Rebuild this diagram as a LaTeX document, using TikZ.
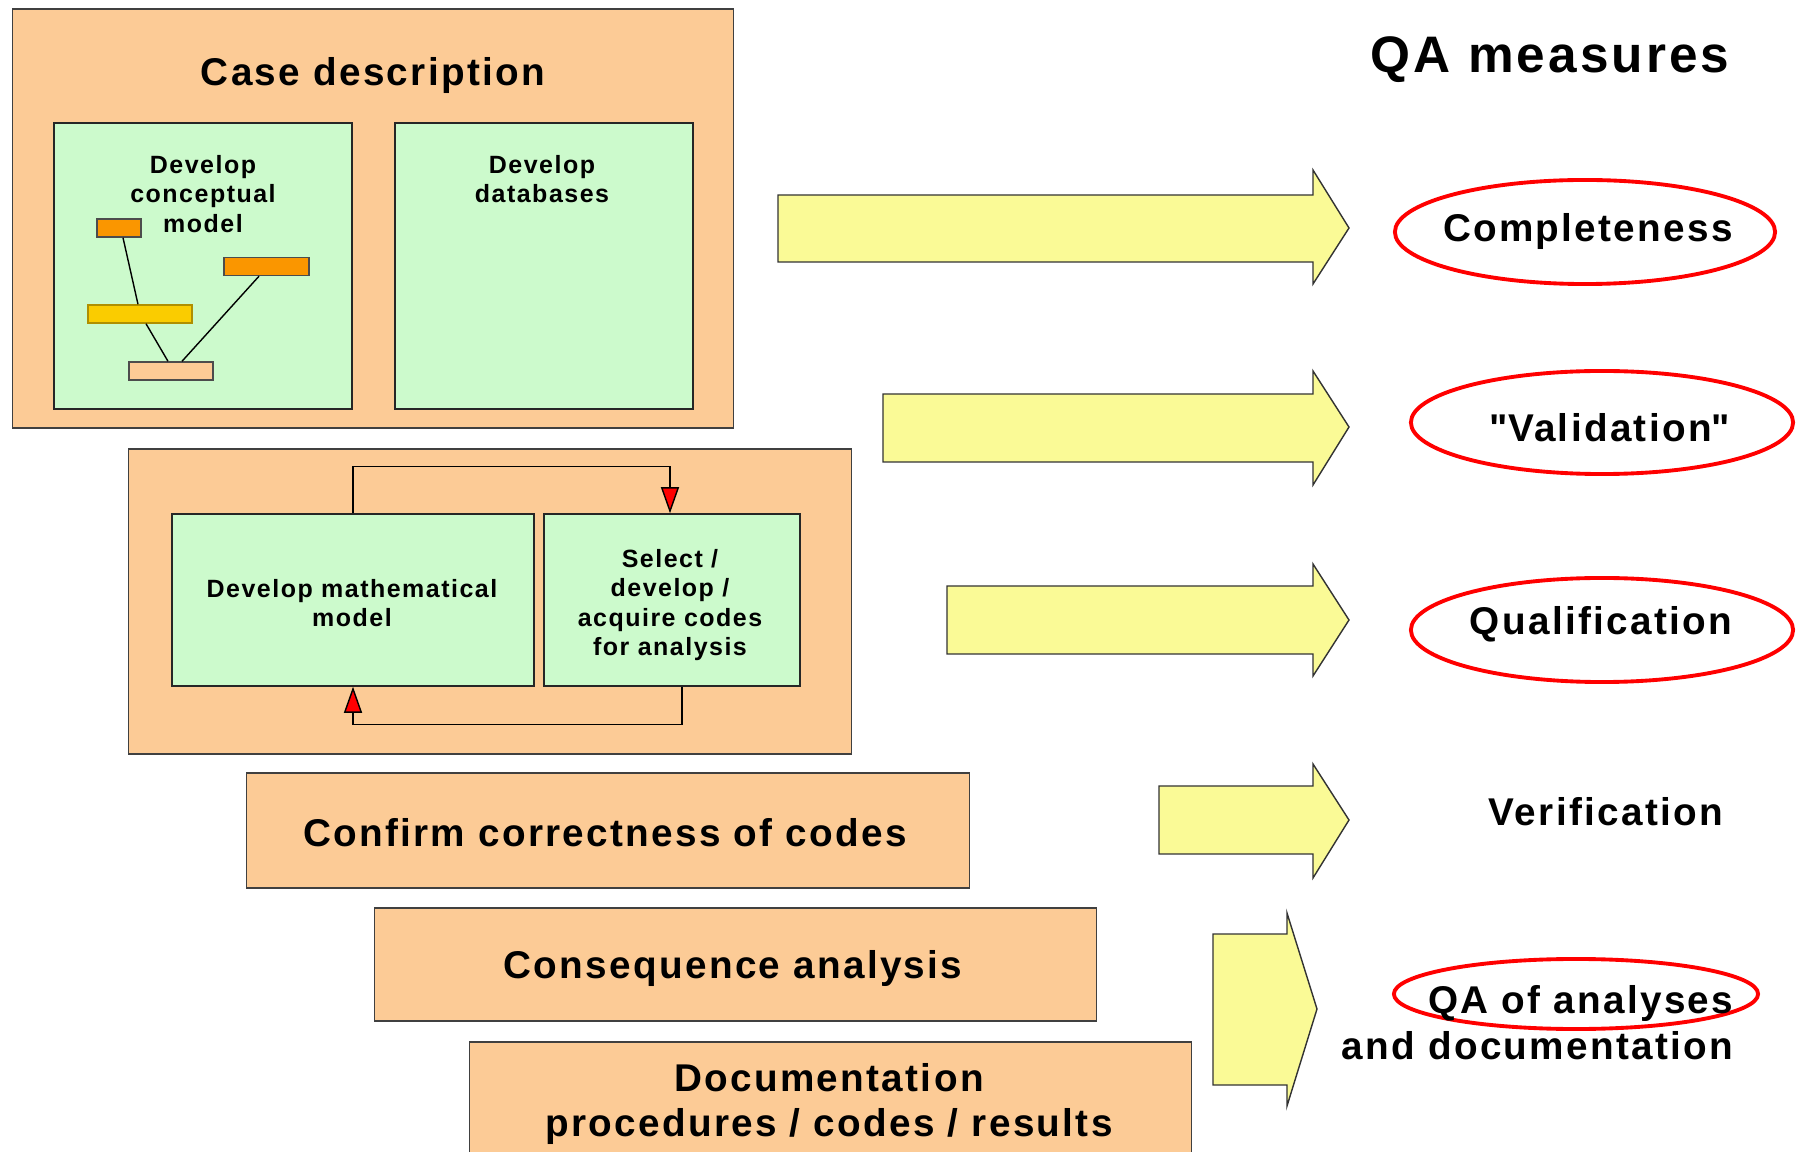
\documentclass[tikz,border=0pt]{standalone}
\usepackage{fontspec}
\setmainfont{Liberation Sans}[LetterSpace=6]
\usetikzlibrary{arrows.meta,positioning,shapes.geometric}

\definecolor{peach}{RGB}{252,203,150}
\definecolor{mint}{RGB}{204,250,204}
\definecolor{lemon}{RGB}{250,250,150}
\definecolor{amber}{RGB}{250,150,0}
\definecolor{gold}{RGB}{250,204,0}

\tikzset{
  peachbox/.style={draw=black!75, fill=peach, inner sep=0pt},
  greenbox/.style={draw=black!85, fill=mint, inner sep=0pt},
  bigtxt/.style={font=\fontsize{11}{13}\selectfont\bfseries, align=center, inner sep=0pt},
  smalltxt/.style={font=\fontsize{7.1}{8.4}\selectfont\bfseries, align=center, inner sep=0pt},
  part/.style={draw=black!70, inner sep=0pt, minimum height=0.18cm},
  qaarrow/.style={draw=black!80, fill=lemon},
  ring/.style={draw=red, line width=1.1pt, ellipse, inner sep=0pt},
  flow/.style={draw=black, -{Triangle[length=2.6mm,width=1.8mm,fill=red]}},
}

\begin{document}
\begin{tikzpicture}[x=0.01cm, y=-0.01cm]
\clip (0,0) rectangle (1796,1152);

% case description
\node[peachbox, minimum width=7.21cm, minimum height=4.19cm] (casebox) at (373,218.5) {};
\node[bigtxt] (casetitle) at (373,76) {Case description};
\node[greenbox, minimum width=2.98cm, minimum height=2.86cm] (concept) at (203,266) {};
\node[greenbox, minimum width=2.98cm, minimum height=2.86cm] (dbase) at (544,266) {};
\node[smalltxt] (concepttxt) at (203,194) {Develop\\conceptual\\model};
\node[smalltxt] (dbasetxt) at (542,179) {Develop\\databases};

% little sketch of a model
\node[part, fill=amber, minimum width=0.44cm] (m1) at (119,228) {};
\node[part, fill=amber, minimum width=0.85cm] (m2) at (266.5,266.5) {};
\node[part, draw=gold!70!black, fill=gold, minimum width=1.04cm] (m3) at (140,314) {};
\node[part, fill=peach, minimum width=0.84cm] (m4) at (171,371) {};
\draw ([xshift=0.04cm]m1.south) -- ([xshift=-0.02cm]m3.north);
\draw ([xshift=0.06cm]m3.south) -- ([xshift=-0.03cm]m4.north);
\draw ([xshift=-0.075cm]m2.south) -- ([xshift=0.11cm]m4.north);

% mathematical model and codes
\node[peachbox, minimum width=7.22cm, minimum height=3.05cm] (modelbox) at (490,601.5) {};
\node[greenbox, minimum width=3.62cm, minimum height=1.72cm] (math) at (353,600) {};
\node[greenbox, minimum width=2.56cm, minimum height=1.72cm] (codes) at (672,600) {};
\node[smalltxt] (mathtxt) at (352,603) {Develop mathematical\\model};
\node[smalltxt] (codestxt) at (670,605) {Select /\\develop /\\acquire codes\\for analysis};
\draw[flow] (math.north) -- ++(0,-47) -| ([xshift=-0.02cm]codes.north);
\draw[flow] ([xshift=0.1cm]codes.south) -- ++(0,38) -| (math.south);

% lower steps
\node[peachbox, minimum width=7.22cm, minimum height=1.15cm] (confirm) at (608,830.5) {};
\node[bigtxt] (confirmtxt) at (605,833) {Confirm correctness of codes};
\node[peachbox, minimum width=7.21cm, minimum height=1.13cm] (conseq) at (735.5,964.5) {};
\node[bigtxt] (conseqtxt) at (733,968) {Consequence analysis};
\node[peachbox, minimum width=7.21cm, minimum height=1.3cm] (docbox) at (830.5,1107) {};
\node[bigtxt] (doctxt) at (829,1104) {Documentation\\procedures / codes / results};

% block arrows
\draw[qaarrow] (778,195) -- (1313,195) -- (1313,170) -- (1349,228) -- (1313,284) -- (1313,262) -- (778,262) -- cycle;
\draw[qaarrow] (883,394) -- (1313,394) -- (1313,371) -- (1349,427) -- (1313,485) -- (1313,462) -- (883,462) -- cycle;
\draw[qaarrow] (947,586) -- (1313,586) -- (1313,564) -- (1349,620) -- (1313,676) -- (1313,654) -- (947,654) -- cycle;
\draw[qaarrow] (1159,786) -- (1313,786) -- (1313,764) -- (1349,820) -- (1313,878) -- (1313,854) -- (1159,854) -- cycle;
\draw[qaarrow] (1213,934) -- (1287,934) -- (1287,913) -- (1317,1009) -- (1287,1106) -- (1287,1085) -- (1213,1085) -- cycle;

% QA measures
\node[font=\fontsize{14.6}{17}\selectfont\bfseries, inner sep=0pt] (qatitle) at (1550,60) {QA measures};
\node[ring, minimum width=3.8cm, minimum height=1.04cm] (compring) at (1585,232) {};
\node[bigtxt] (comptxt) at (1588,232) {Completeness};
\node[ring, minimum width=3.82cm, minimum height=1.03cm] (validring) at (1602,422.5) {};
\node[bigtxt] (validtxt) at (1610,428) {\textquotedbl Validation\textquotedbl};
\node[ring, minimum width=3.82cm, minimum height=1.04cm] (qualring) at (1602,630) {};
\node[bigtxt] (qualtxt) at (1601,624) {Qualification};
\node[bigtxt] (veriftxt) at (1606,812) {Verification};
\node[ring, minimum width=3.64cm, minimum height=0.7cm] (qadocring) at (1576,994) {};
\node[bigtxt, align=right, anchor=east] (qadoctxt) at (1734,1023) {QA of analyses\\and documentation};

\end{tikzpicture}
\end{document}
